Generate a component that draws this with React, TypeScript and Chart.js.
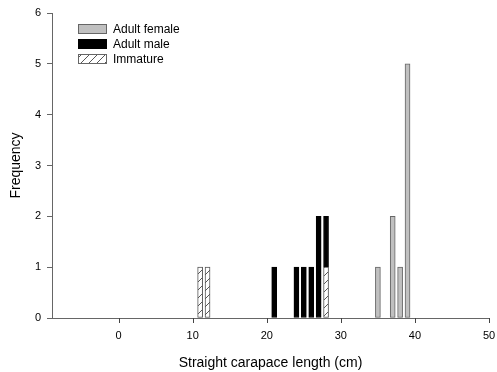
import React, { useEffect, useRef } from "react";
import { Chart, registerables } from "chart.js";

Chart.register(...registerables);

const femaleLengths = [35, 37, 38, 39];
const femaleCounts = [1, 2, 1, 5];
const maleLengths = [21, 24, 25, 26, 27, 28];
const maleCounts = [1, 1, 1, 1, 2, 1];
const immatureLengths = [11, 12, 28];
const immatureCounts = [1, 1, 1];
const xTickValues = [0, 10, 20, 30, 40, 50];
const legendLabels = ["Adult female", "Adult male", "Immature"];

function makeHatch(): CanvasPattern | string {
  const c = document.createElement("canvas");
  c.width = 8;
  c.height = 8;
  const g = c.getContext("2d");
  if (!g) return "#fff";
  g.fillStyle = "#ffffff";
  g.fillRect(0, 0, 8, 8);
  g.strokeStyle = "#444";
  g.lineWidth = 0.9;
  g.beginPath();
  g.moveTo(-1, 9);
  g.lineTo(9, -1);
  g.stroke();
  const p = g.createPattern(c, "repeat");
  return p || "#fff";
}

export default function App() {
  const ref = useRef<HTMLCanvasElement | null>(null);

  useEffect(() => {
    if (!ref.current) return;
    const hatch = makeHatch();
    const font = "'Liberation Sans', Arial, sans-serif";

    const tickPlugin = {
      id: "xTickMarks",
      afterDraw(chart: any) {
        const ctx = chart.ctx;
        const xs = chart.scales.x;
        const bottom = Math.round(chart.chartArea.bottom);
        ctx.save();
        ctx.fillStyle = "#444";
        xTickValues.forEach((v) => {
          const px = Math.round(xs.getPixelForValue(v));
          ctx.fillRect(px, bottom, 1, 5);
        });
        ctx.restore();
      },
    };

    const legendPlugin = {
      id: "customLegend",
      afterDraw(chart: any) {
        const ctx = chart.ctx;
        const items = [
          { label: legendLabels[0], fill: "#c0c0c0", stroke: "#666" },
          { label: legendLabels[1], fill: "#000000", stroke: "#000" },
          { label: legendLabels[2], fill: hatch, stroke: "#666" },
        ];
        ctx.save();
        ctx.font = `12px ${font}`;
        ctx.textBaseline = "middle";
        items.forEach((it, i) => {
          const cy = 29 + i * 15;
          ctx.fillStyle = it.fill as any;
          ctx.fillRect(78.5, cy - 4.5, 28, 9);
          ctx.strokeStyle = it.stroke;
          ctx.lineWidth = 1;
          ctx.strokeRect(78.5, cy - 4.5, 28, 9);
          ctx.fillStyle = "#000";
          ctx.fillText(it.label, 113, cy + 0.5);
        });
        ctx.restore();
      },
    };

    const chart = new Chart(ref.current, {
      type: "bar",
      data: {
        datasets: [
          {
            label: legendLabels[2],
            data: immatureLengths.map((x, i) => ({ x, y: immatureCounts[i] })),
            backgroundColor: hatch as any,
            borderColor: "#555",
            borderWidth: 1,
            borderSkipped: false,
          },
          {
            label: legendLabels[1],
            data: maleLengths.map((x, i) => ({ x, y: maleCounts[i] })),
            backgroundColor: "#000",
            borderColor: "#000",
            borderWidth: 1,
            borderSkipped: false,
          },
          {
            label: legendLabels[0],
            data: femaleLengths.map((x, i) => ({ x, y: femaleCounts[i] })),
            backgroundColor: "#c0c0c0",
            borderColor: "#666",
            borderWidth: 1,
            borderSkipped: false,
          },
        ],
      },
      options: {
        animation: false,
        responsive: true,
        maintainAspectRatio: false,
        layout: { padding: { top: 13, right: 8, left: 0, bottom: 0 } },
        datasets: { bar: { barThickness: 5 } } as any,
        plugins: {
          legend: { display: false },
          tooltip: { enabled: false },
        },
        scales: {
          x: {
            type: "linear",
            stacked: true,
            min: -9,
            max: 50,
            offset: false,
            afterBuildTicks: (scale: any) => {
              scale.ticks = xTickValues.map((v) => ({ value: v }));
            },
            afterFit: (scale: any) => {
              scale.height = 54;
              scale.paddingRight = 0;
              scale.paddingLeft = 0;
            },
            grid: {
              offset: false,
              drawOnChartArea: false,
              drawTicks: false,
              color: "#666",
            },
            border: { color: "#666", width: 1 },
            ticks: {
              color: "#000",
              font: { family: font, size: 11 },
              padding: 11,
              maxRotation: 0,
              autoSkip: false,
            },
            title: {
              display: true,
              text: "Straight carapace length (cm)",
              color: "#000",
              font: { family: font, size: 14 },
              padding: { top: 8, bottom: 0 },
            },
          },
          y: {
            type: "linear",
            stacked: true,
            min: 0,
            max: 6,
            afterFit: (scale: any) => {
              scale.width = 52;
            },
            grid: {
              offset: false,
              drawOnChartArea: false,
              drawTicks: true,
              tickLength: 5,
              color: "#666",
            },
            border: { color: "#666", width: 1 },
            ticks: {
              stepSize: 1,
              color: "#000",
              font: { family: font, size: 11 },
              padding: 6,
            },
            title: {
              display: true,
              text: "Frequency",
              color: "#000",
              font: { family: font, size: 14 },
              padding: { top: 8, bottom: 4 },
            },
          },
        },
      },
      plugins: [tickPlugin, legendPlugin],
    });
    return () => chart.destroy();
  }, []);

  return (
    <div style={{ position: "absolute", left: 0, top: 0, width: 497, height: 372, background: "#fff" }}>
      <canvas ref={ref} />
    </div>
  );
}
